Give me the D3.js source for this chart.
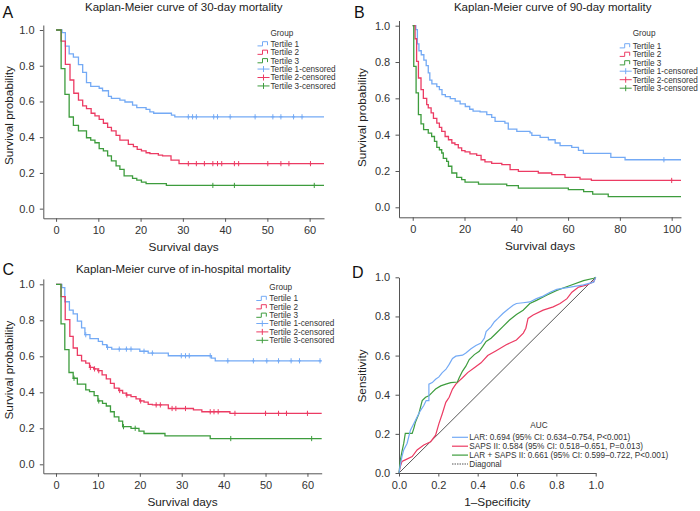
<!DOCTYPE html>
<html><head><meta charset="utf-8">
<script src="https://cdn.jsdelivr.net/npm/d3@7"></script>
<style>
body{margin:0;background:#fff}
svg{display:block}
text{font-family:"Liberation Sans",Arial,Helvetica,sans-serif}
</style>
</head><body>
<svg id="c" width="700" height="511"></svg>
<script>
// ---------------- DATA ----------------
const groups = ["Tertile 1","Tertile 2","Tertile 3"];
const censLabels = ["Tertile 1-censored","Tertile 2-censored","Tertile 3-censored"];

// Panel A: 30-day mortality  [day, survival]
const kmA1 = [[0,1],[1.4,0.985],[2.2,0.91],[3.1,0.866],[4.1,0.848],[5.3,0.806],[6.3,0.763],[7.2,0.706],[8.2,0.685],[10.2,0.674],[11,0.66],[12.4,0.628],[13.1,0.617],[15.1,0.608],[16.3,0.597],[18.1,0.579],[19.1,0.566],[21.3,0.556],[22.2,0.542],[23.1,0.534],[27.3,0.524],[28.1,0.514]];
const kmA2 = [[0,1],[1.2,0.938],[2.2,0.808],[3.3,0.72],[4.2,0.646],[5.3,0.608],[6.3,0.575],[7.2,0.56],[8.3,0.534],[9.2,0.519],[10.2,0.5],[11.2,0.478],[12.2,0.455],[13.1,0.435],[14.2,0.41],[15.1,0.384],[17.1,0.36],[18.3,0.347],[19.2,0.332],[20.2,0.323],[21.3,0.313],[22.2,0.308],[24.2,0.3],[25.2,0.295],[27.2,0.272],[29.1,0.252]];
const kmA3 = [[0,1],[1.2,0.784],[2.1,0.64],[3.1,0.513],[4.1,0.466],[5.3,0.435],[7.2,0.397],[8.2,0.384],[9.2,0.369],[10.2,0.336],[11.2,0.323],[12.2,0.295],[13.1,0.267],[14.2,0.239],[15.1,0.22],[16.1,0.183],[18.1,0.17],[19.1,0.16],[20.2,0.149],[21.3,0.14],[26.1,0.13]];
const censA1 = [31.3,32.3,33.2,37.3,38.2,41.2,47.1,51.3,53.2,56.2,58.2];
const censA2 = [31.3,33.2,35.1,37.1,38.2,39.2,42.2,43.2,50.1,53.2,55.1,60.2];
const censA3 = [37.1,42.2,61.1];

// Panel B: 90-day mortality
const kmB1 = [[0,1],[1.2,0.978],[1.8,0.9],[2.4,0.862],[3.3,0.84],[4.3,0.81],[5.2,0.78],[6,0.74],[6.6,0.7],[7.4,0.68],[9.3,0.665],[10.3,0.648],[11.3,0.62],[12.6,0.61],[14.5,0.598],[16.4,0.585],[18.3,0.57],[20.3,0.555],[22,0.54],[23.3,0.53],[26,0.525],[28.6,0.51],[30.5,0.495],[31.8,0.473],[35.6,0.464],[36.9,0.43],[40.2,0.418],[45.3,0.41],[46,0.396],[49.2,0.385],[52.4,0.372],[55,0.354],[56.9,0.34],[61.4,0.33],[64,0.314],[65.9,0.297],[76.5,0.275],[82,0.262]];
const kmB2 = [[0,1],[0.9,0.928],[1.5,0.804],[2.2,0.712],[3.2,0.648],[4.1,0.6],[5.4,0.565],[6,0.547],[7.1,0.52],[8,0.49],[9.3,0.464],[10.3,0.44],[11.2,0.418],[12.5,0.39],[13.8,0.372],[15.1,0.354],[16.3,0.345],[17.6,0.327],[18.9,0.312],[20.2,0.305],[22.1,0.294],[24.7,0.286],[26.4,0.262],[27.9,0.25],[30.5,0.242],[34.4,0.235],[37.6,0.207],[40.8,0.198],[48.5,0.189],[53.7,0.18],[58.8,0.165],[64.6,0.155],[69,0.148]];
const kmB3 = [[0,1],[0.4,0.776],[1.3,0.63],[2.2,0.51],[3.2,0.459],[4.2,0.428],[6,0.409],[7.3,0.39],[8.4,0.363],[9.3,0.33],[10.3,0.317],[11.2,0.299],[11.8,0.27],[13.1,0.253],[13.8,0.226],[15.1,0.189],[17,0.165],[18.9,0.152],[20.2,0.139],[25.4,0.128],[36.3,0.119],[40.8,0.106],[60.1,0.097],[66,0.086],[69.5,0.073],[75.5,0.059]];
const censB1 = [97];
const censB2 = [100];
const censB3 = [];

// Panel C: in-hospital mortality
const kmC1 = [[0,1],[1.4,0.981],[2.1,0.903],[3.2,0.857],[4.1,0.836],[5.1,0.795],[6.1,0.758],[6.9,0.72],[8.1,0.698],[10.1,0.683],[11.1,0.665],[12.1,0.65],[13.3,0.64],[20,0.628],[22,0.618],[26.8,0.603],[37.1,0.59],[38,0.575]];
const kmC2 = [[0,1],[1.2,0.931],[2.2,0.804],[3.3,0.711],[4.1,0.646],[5.1,0.605],[6.1,0.575],[7.1,0.562],[8,0.538],[9,0.53],[10,0.52],[11,0.497],[12,0.475],[13,0.45],[13.9,0.423],[15,0.41],[15.9,0.395],[16.8,0.385],[17.9,0.376],[19.1,0.363],[20,0.352],[21,0.345],[22,0.333],[23,0.33],[26.8,0.31],[32.8,0.302],[34.8,0.292],[41.5,0.283]];
const kmC3 = [[0,1],[1.2,0.78],[2.1,0.637],[3.1,0.51],[4.1,0.478],[5.1,0.445],[7.1,0.413],[8,0.404],[9.1,0.382],[10,0.352],[11.1,0.339],[12,0.324],[13,0.292],[13.9,0.264],[15,0.24],[15.9,0.209],[17.9,0.2],[19.8,0.184],[21,0.171],[26,0.158],[36.8,0.143]];
const censC1 = [7.1,12.3,15.1,16.8,17.9,21,23,29.9,30.9,31.8,36.8,41,47.1,50.3,53.1,56.1,58.1,63];
const censC2 = [8.2,9.2,10.2,15.2,16.9,20.2,23.9,24.9,27.7,28.6,30.9,36.8,37.7,38.7,42.7,50,53.1,55,60];
const censC3 = [4.3,10.2,16.1,18.9,41.7,61];

// Panel D: ROC curves [1-specificity, sensitivity]
const rocLabels = ["LAR: 0.694 (95% CI: 0.634\u20130.754, P<0.001)","SAPS II: 0.584 (95% CI: 0.518\u20130.651, P=0.013)","LAR + SAPS II: 0.661 (95% CI: 0.599\u20130.722, P<0.001)","Diagonal"];
const rocLAR = [[0,0],[0.007,0.042],[0.015,0.084],[0.024,0.118],[0.041,0.151],[0.058,0.219],[0.075,0.252],[0.092,0.286],[0.109,0.319],[0.126,0.345],[0.138,0.37],[0.152,0.37],[0.152,0.454],[0.169,0.462],[0.186,0.479],[0.203,0.491],[0.22,0.513],[0.238,0.529],[0.255,0.555],[0.272,0.585],[0.289,0.597],[0.323,0.602],[0.34,0.613],[0.366,0.635],[0.391,0.652],[0.417,0.664],[0.434,0.689],[0.443,0.723],[0.468,0.748],[0.485,0.773],[0.503,0.79],[0.528,0.815],[0.554,0.837],[0.58,0.857],[0.597,0.866],[0.631,0.87],[0.665,0.874],[0.699,0.891],[0.733,0.904],[0.768,0.924],[0.802,0.938],[0.87,0.95],[0.938,0.961],[0.99,0.975],[1,1]];
const rocSAPS = [[0,0],[0.007,0.034],[0.015,0.059],[0.032,0.067],[0.067,0.084],[0.092,0.118],[0.126,0.143],[0.161,0.16],[0.186,0.193],[0.203,0.252],[0.22,0.303],[0.238,0.361],[0.255,0.387],[0.272,0.429],[0.289,0.454],[0.306,0.471],[0.323,0.487],[0.349,0.513],[0.383,0.538],[0.417,0.563],[0.451,0.6],[0.494,0.625],[0.545,0.655],[0.597,0.68],[0.632,0.715],[0.645,0.74],[0.656,0.79],[0.682,0.807],[0.733,0.832],[0.784,0.849],[0.819,0.866],[0.854,0.891],[0.879,0.924],[0.913,0.95],[0.956,0.961],[0.99,0.978],[1,1]];
const rocBoth = [[0,0],[0.007,0.067],[0.015,0.109],[0.024,0.151],[0.032,0.202],[0.05,0.202],[0.067,0.202],[0.075,0.227],[0.084,0.261],[0.101,0.303],[0.118,0.37],[0.135,0.387],[0.152,0.395],[0.169,0.412],[0.186,0.429],[0.212,0.445],[0.238,0.454],[0.263,0.462],[0.297,0.465],[0.306,0.487],[0.323,0.521],[0.34,0.546],[0.357,0.58],[0.383,0.605],[0.408,0.622],[0.426,0.647],[0.443,0.672],[0.468,0.689],[0.494,0.714],[0.528,0.748],[0.562,0.782],[0.597,0.81],[0.631,0.832],[0.665,0.866],[0.699,0.882],[0.75,0.908],[0.802,0.933],[0.87,0.958],[0.938,0.983],[0.99,0.995],[1,1]];
const diag = [[0,0],[1,1]];

const survTicks = [0,0.2,0.4,0.6,0.8,1.0];
const daysTicksA = [0,10,20,30,40,50,60];
const daysTicksB = [0,20,40,60,80,100];
const rocTicks = [0,0.2,0.4,0.6,0.8,1.0];

// ---------------- DRAW ----------------
const svg = d3.select("#c");
const COLS = ["#74aaf5","#ec3b63","#3d9c3d"];
const AX = "#555", TX = "#333";

function survAt(steps,t){let s=steps[0][1];for(const p of steps){if(p[0]<=t)s=p[1];else break;}return s;}

function styleAxis(sel){
  sel.select(".domain").attr("stroke",AX).attr("stroke-width",1);
  sel.selectAll(".tick line").attr("stroke",AX).attr("stroke-width",1);
  sel.selectAll(".tick text").attr("fill",TX).style("font-size","11px").style("font-family","'Liberation Sans',Arial,sans-serif");
}

function kmPanel(cfg){
  const x=d3.scaleLinear().domain(cfg.xd).range(cfg.xr);
  const y=d3.scaleLinear().domain(cfg.yd).range(cfg.yr);
  const g=svg.append("g");
  g.append("g").attr("transform",`translate(0,${cfg.yr[0]})`)
    .call(d3.axisBottom(x).tickValues(cfg.xticks).tickSize(3.5).tickSizeOuter(0).tickPadding(4.2).tickFormat(d3.format("d")))
    .call(styleAxis);
  g.append("g").attr("transform",`translate(${cfg.xr[0]},0)`)
    .call(d3.axisLeft(y).tickValues(survTicks).tickSize(3.5).tickSizeOuter(0).tickPadding(5.3).tickFormat(d3.format(".1f")))
    .call(styleAxis);
  const line=d3.line().x(d=>x(d[0])).y(d=>y(d[1])).curve(d3.curveStepAfter);
  const xEnd=cfg.xd[1];
  cfg.series.forEach((s,i)=>{
    const pts=s.concat([[xEnd,s[s.length-1][1]]]);
    g.append("path").attr("d",line(pts)).attr("fill","none").attr("stroke",COLS[i]).attr("stroke-width",1.3);
  });
  cfg.cens.forEach((c,i)=>{
    g.selectAll(null).data(c).enter().append("path")
      .attr("d",t=>{const px=x(t),py=y(survAt(cfg.series[i],t));return `M${px},${py-2.6}V${py+2.6}M${px-1.5},${py}H${px+1.5}`;})
      .attr("stroke",COLS[i]).attr("stroke-width",1);
  });
  // legend
  const L=cfg.leg;
  g.append("text").attr("x",L.tx).attr("y",L.gy+2.9).text("Group").attr("fill",TX).style("font-size","8.2px");
  const labels=groups.concat(censLabels);
  labels.forEach((lab,k)=>{
    const cy=L.y0+k*L.dy, i=k%3;
    const x0=L.tx-13, x1=L.tx-1;
    if(k<3){
      g.append("path").attr("d",`M${x0},${cy+2.2}H${x0+5}V${cy-2}H${x1-2}V${cy+1.5}`).attr("fill","none").attr("stroke",COLS[i]).attr("stroke-width",1);
    } else {
      g.append("path").attr("d",`M${x0},${cy}H${x1}M${(x0+x1)/2},${cy-3}V${cy+3}`).attr("stroke",COLS[i]).attr("stroke-width",1);
    }
    g.append("text").attr("x",L.tx).attr("y",cy+2.9).text(lab).attr("fill",TX).style("font-size","8.2px");
  });
  // titles
  g.append("text").attr("x",cfg.titleX).attr("y",cfg.titleY).attr("text-anchor","middle").text(cfg.title).attr("fill","#222").style("font-size","11.5px");
  g.append("text").attr("x",(cfg.xr[0]+cfg.xr[1])/2).attr("y",cfg.yr[0]+32.4).attr("text-anchor","middle").text("Survival days").attr("fill","#222").style("font-size","11.8px");
  g.append("text").attr("transform",`translate(${cfg.ytX},${cfg.ytY}) rotate(-90)`).attr("text-anchor","middle").attr("dy","0.35em").text("Survival probability").attr("fill","#222").style("font-size","11.8px");
  g.append("text").attr("x",cfg.letter[1]).attr("y",cfg.letter[2]).text(cfg.letter[0]).attr("fill","#111").style("font-size","16px");
}

kmPanel({xd:[-3.02,63.4],xr:[43.3,324],yd:[-0.054,1.028],yr:[218.3,25],xticks:daysTicksA,
  series:[kmA1,kmA2,kmA3],cens:[censA1,censA2,censA3],
  leg:{tx:270.5,gy:33.3,y0:43.7,dy:8.45},
  title:"Kaplan-Meier curve of 30-day mortality",titleX:183.8,titleY:11,ytX:8.5,ytY:115.5,letter:["A",2.5,18]});
kmPanel({xd:[-5.3,103.6],xr:[399,681],yd:[-0.055,1.0286],yr:[217.3,20.5],xticks:daysTicksB,
  series:[kmB1,kmB2,kmB3],cens:[censB1,censB2,censB3],
  leg:{tx:632.7,gy:33.3,y0:45.7,dy:8.5},
  title:"Kaplan-Meier curve of 90-day mortality",titleX:552.7,titleY:11,ytX:362,ytY:117.5,letter:["B",354,17.5]});
kmPanel({xd:[-3.03,63.4],xr:[43.3,321.7],yd:[-0.05,1.03],yr:[473.3,278.9],xticks:daysTicksA,
  series:[kmC1,kmC2,kmC3],cens:[censC1,censC2,censC3],
  leg:{tx:269.3,gy:287.3,y0:298.3,dy:8.4},
  title:"Kaplan-Meier curve of in-hospital mortality",titleX:183.3,titleY:272.5,ytX:8.5,ytY:370,letter:["C",2.5,275]});

// Panel D
(function(){
  const x=d3.scaleLinear().domain([0,1]).range([399,595.7]);
  const y=d3.scaleLinear().domain([0,1]).range([473,277.3]);
  const g=svg.append("g");
  g.append("g").attr("transform",`translate(0,473)`)
    .call(d3.axisBottom(x).tickValues(rocTicks).tickSize(3.5).tickSizeOuter(0).tickPadding(4.2).tickFormat(d3.format(".1f")))
    .call(styleAxis);
  g.append("g").attr("transform",`translate(399,0)`)
    .call(d3.axisLeft(y).tickValues(rocTicks).tickSize(3.5).tickSizeOuter(0).tickPadding(5.3).tickFormat(d3.format(".1f")))
    .call(styleAxis);
  const line=d3.line().x(d=>x(d[0])).y(d=>y(d[1]));
  g.append("path").attr("d",line(diag)).attr("fill","none").attr("stroke","#444").attr("stroke-width",0.9);
  [rocSAPS,rocBoth,rocLAR].forEach((s,j)=>{
    const ci=[1,2,0][j];
    g.append("path").attr("d",line(s)).attr("fill","none").attr("stroke",COLS[ci]).attr("stroke-width",1.2);
  });
  // legend
  g.append("text").attr("x",539).attr("y",428).attr("text-anchor","middle").text("AUC").attr("fill",TX).style("font-size","8.2px");
  const lc=[COLS[0],COLS[1],COLS[2],"#555"];
  rocLabels.forEach((lab,k)=>{
    const cy=437.3+k*8.9;
    g.append("path").attr("d",`M452,${cy}H468`).attr("stroke",lc[k]).attr("stroke-width",k<3?1.2:1).attr("stroke-dasharray",k<3?null:"1.5,1");
    g.append("text").attr("x",469.3).attr("y",cy+2.9).text(lab).attr("fill",TX).style("font-size","8.2px");
  });
  g.append("text").attr("x",497.3).attr("y",505.7).attr("text-anchor","middle").text("1\u2013Specificity").attr("fill","#222").style("font-size","11.8px");
  g.append("text").attr("transform",`translate(362,376) rotate(-90)`).attr("text-anchor","middle").attr("dy","0.35em").text("Sensitivity").attr("fill","#222").style("font-size","11.8px");
  g.append("text").attr("x",352).attr("y",277.5).text("D").attr("fill","#111").style("font-size","16px");
})();
</script>
</body></html>
